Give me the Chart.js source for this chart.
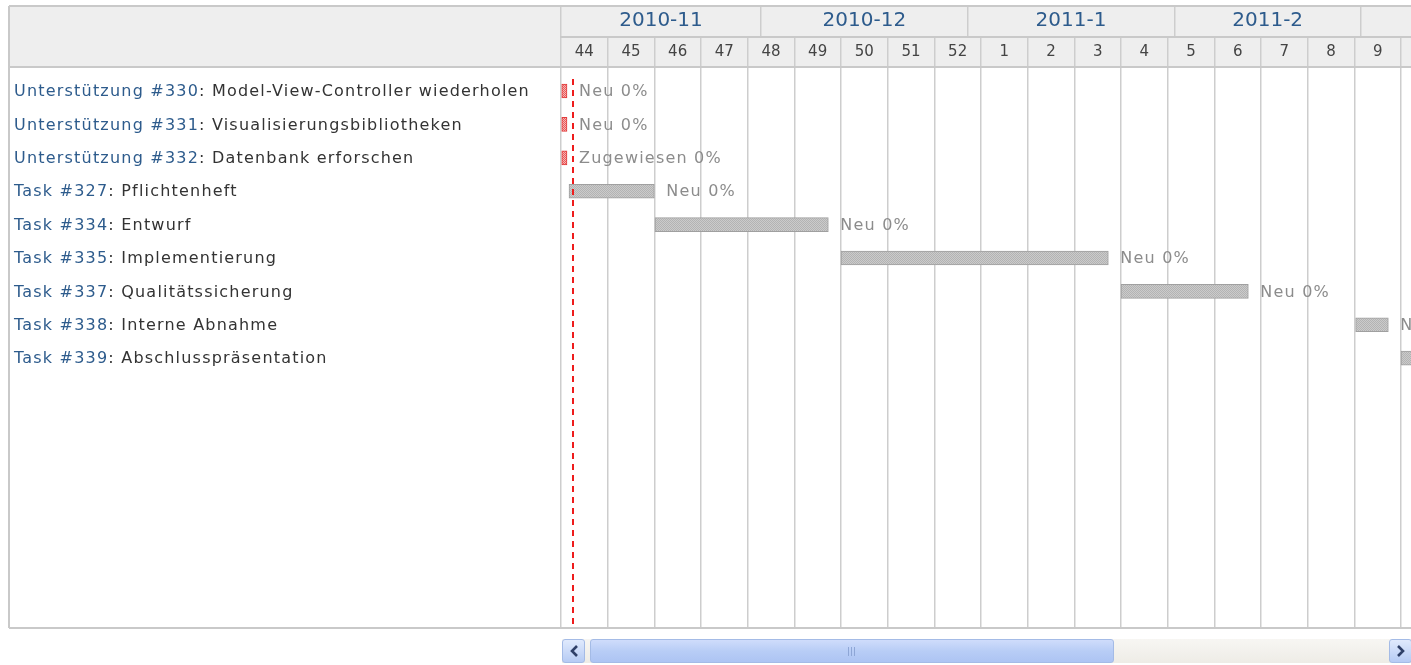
<!DOCTYPE html>
<html>
<head>
<meta charset="utf-8">
<script src="https://cdn.jsdelivr.net/npm/chart.js@4.4.0/dist/chart.umd.min.js"></script>
<style>
body { margin: 0; background: #fff; overflow: hidden; }
#wrap { position: relative; width: 1411px; height: 665px; }
#gantt { position: absolute; left: 0; top: 0; }
.sb { position: absolute; top: 639px; height: 24px; box-sizing: border-box; }
#track { left: 562px; width: 849px; background: linear-gradient(#f7f6f3, #eeece6); }
.btn { width: 23px; border: 1px solid #a4bbe6; border-radius: 3px;
  background: linear-gradient(#e0eafd, #b6cbf4); }
.btn svg { position: absolute; left: 6px; top: 5px; }
#btnL { left: 562px; }
#btnR { left: 1389px; }
#thumb { left: 590px; width: 524px; border: 1px solid #a4bbe6; border-radius: 3px;
  background: linear-gradient(#cfdcfb, #b8cdf6 50%, #adc4f3); }
#grip { position: absolute; left: 257px; top: 7px; width: 8px; height: 9px;
  background: repeating-linear-gradient(90deg, #8ea6d6 0 1px, transparent 1px 3px); }
</style>
</head>
<body>
<div id="wrap">
<canvas id="gantt" width="1411" height="665"></canvas>
<div class="sb" id="track"></div>
<div class="sb btn" id="btnL"><svg width="10" height="12"><polyline points="8,1 3,6 8,11" fill="none" stroke="#2f4068" stroke-width="2.6"/></svg></div>
<div class="sb" id="thumb"><div id="grip"></div></div>
<div class="sb btn" id="btnR"><svg width="10" height="12"><polyline points="2,1 7,6 2,11" fill="none" stroke="#2f4068" stroke-width="2.6"/></svg></div>
</div>
<script>
// Zeitachse in Tagen ab 2010-11-01 (Montag, KW 44)
const xMax = 127.5;
const weekLabels = ['44','45','46','47','48','49','50','51','52','1','2','3','4','5','6','7','8','9','10'];
const weekStarts = [0,7,14,21,28,35,42,49,56,63,70,77,84,91,98,105,112,119,126];
const monthLabels = ['2010-11','2010-12','2011-1','2011-2'];
const monthStarts = [0,30,61,92,120];

// Tickets
const trackers = ['Unterstützung #330','Unterstützung #331','Unterstützung #332','Task #327','Task #334','Task #335','Task #337','Task #338','Task #339'];
const subjects = ['Model-View-Controller wiederholen','Visualisierungsbibliotheken','Datenbank erforschen','Pflichtenheft','Entwurf','Implementierung','Qualitätssicherung','Interne Abnahme','Abschlusspräsentation'];
const startDay = [0,0,0,1.2,14.1,42,84,119.2,126];
const endDay = [0.9,0.9,0.9,14,40.1,82.1,103.1,124.1,140];
const statusText = ['Neu','Neu','Zugewiesen','Neu','Neu','Neu','Neu','Neu','Neu'];
const doneRatio = [0,0,0,0,0,0,0,0,0];
const isLate = [true,true,true,false,false,false,false,false,false];
const todayDay = 1.8;

Chart.defaults.font.family = '"DejaVu Sans", Verdana, sans-serif';

function makePattern(bg, dot) {
    var c = document.createElement('canvas');
    c.width = 2; c.height = 2;
    var g = c.getContext('2d');
    g.fillStyle = bg; g.fillRect(0, 0, 2, 2);
    g.fillStyle = dot; g.fillRect(0, 0, 1, 1); g.fillRect(1, 1, 1, 1);
    return g.createPattern(c, 'repeat');
}
const grayFill = makePattern('#cbcbcb', '#b3b3b3');
const redFill = makePattern('#f6b4b4', '#ea5a5a');

// Rahmen + Kopfzeilen-Hintergrund
const frame = {
    id: 'frame',
    beforeDraw(chart) {
        const ctx = chart.ctx;
        ctx.save();
        ctx.fillStyle = '#eeeeee';
        ctx.fillRect(9, 6, 1402, 61);
        ctx.restore();
    },
    afterDraw(chart) {
        const ctx = chart.ctx;
        ctx.save();
        ctx.strokeStyle = '#c9c9c9';
        ctx.lineWidth = 2;
        ctx.beginPath();
        ctx.moveTo(9, 6); ctx.lineTo(1411, 6);
        ctx.moveTo(9, 6); ctx.lineTo(9, 628);
        ctx.moveTo(9, 628); ctx.lineTo(1411, 628);
        ctx.moveTo(9, 67); ctx.lineTo(561, 67);
        ctx.stroke();
        ctx.restore();
    }
};

// linke Spalte: Tracker #Nr (blau) + Betreff
const leftLabels = {
    id: 'leftLabels',
    afterDraw(chart) {
        const ctx = chart.ctx, y = chart.scales.y;
        ctx.save();
        ctx.font = '16px "DejaVu Sans"';
        ctx.letterSpacing = '1.2px';
        ctx.textBaseline = 'middle';
        for (let i = 0; i < trackers.length; i++) {
            const py = y.getPixelForValue(i) + 1;
            ctx.fillStyle = '#2d5b8c';
            ctx.fillText(trackers[i], 14, py);
            const w = ctx.measureText(trackers[i]).width;
            ctx.fillStyle = '#333333';
            ctx.fillText(': ' + subjects[i], 14 + w, py);
        }
        ctx.restore();
    }
};

// "Neu 0%" hinter den Balken
const barLabels = {
    id: 'barLabels',
    afterDatasetsDraw(chart) {
        const ctx = chart.ctx;
        const meta = chart.getDatasetMeta(0);
        ctx.save();
        ctx.font = '16px "DejaVu Sans"';
        ctx.letterSpacing = '1.2px';
        ctx.textBaseline = 'middle';
        ctx.fillStyle = '#8c8c8c';
        meta.data.forEach(function (bar, i) {
            ctx.fillText(statusText[i] + ' ' + doneRatio[i] + '%', bar.x + 12, bar.y + 1);
        });
        ctx.restore();
    }
};

// heutige Linie
const todayLine = {
    id: 'todayLine',
    afterDatasetsDraw(chart) {
        const ctx = chart.ctx, a = chart.chartArea;
        const px = chart.scales.x.getPixelForValue(todayDay);
        ctx.save();
        ctx.strokeStyle = '#ee1c1c';
        ctx.lineWidth = 2;
        ctx.setLineDash([6, 5]);
        ctx.beginPath();
        ctx.moveTo(px, a.top + 12);
        ctx.lineTo(px, a.bottom);
        ctx.stroke();
        ctx.restore();
    }
};

const monthTicks = monthStarts.concat(monthLabels.map((m, i) => (monthStarts[i] + monthStarts[i + 1]) / 2)).sort((a, b) => a - b);

new Chart(document.getElementById('gantt').getContext('2d'), {
    type: 'bar',
    data: {
        labels: trackers,
        datasets: [{
            data: trackers.map((t, i) => ({ x: [startDay[i], endDay[i]], y: i })),
            backgroundColor: isLate.map(l => l ? redFill : grayFill),
            borderColor: isLate.map(l => l ? '#e23a3a' : '#a0a0a0'),
            borderWidth: 1,
            borderSkipped: false,
            barThickness: 14
        }]
    },
    options: {
        indexAxis: 'y',
        responsive: false,
        animation: false,
        events: [],
        layout: { padding: { left: 9, top: 6, right: 0, bottom: 37 }, autoPadding: false },
        plugins: { legend: { display: false }, tooltip: { enabled: false } },
        scales: {
            x: {
                type: 'linear', position: 'top', min: 0, max: xMax, weight: 0,
                afterBuildTicks: s => { s.ticks = weekStarts.map(v => ({ value: v })); },
                afterFit: s => { s.height = 30; },
                ticks: {
                    callback: (v, i) => weekLabels[i],
                    autoSkip: false, maxRotation: 0, minRotation: 0,
                    labelOffset: 3.5 * 850 / xMax,
                    padding: -24,
                    color: '#444444',
                    font: { size: 15 }
                },
                grid: { color: '#cdcdcd', lineWidth: 1.5, tickLength: 30, tickColor: '#cdcdcd' },
                border: { color: '#c9c9c9', width: 2 }
            },
            xm: {
                type: 'linear', position: 'top', min: 0, max: xMax, weight: 1,
                afterBuildTicks: s => { s.ticks = monthTicks.filter(v => v <= xMax).map(v => ({ value: v })); },
                afterFit: s => { s.height = 31; },
                ticks: {
                    callback: v => {
                        const k = monthStarts.findIndex((m, i) => v === (m + monthStarts[i + 1]) / 2);
                        return k >= 0 ? monthLabels[k] : '';
                    },
                    autoSkip: false, maxRotation: 0, minRotation: 0,
                    padding: -27,
                    color: '#2d5b8c',
                    font: { size: 20 }
                },
                grid: {
                    drawOnChartArea: false, tickLength: 31, lineWidth: 1.5,
                    tickColor: c => monthStarts.includes(c.tick.value) ? '#cdcdcd' : 'rgba(0,0,0,0)'
                },
                border: { color: '#c9c9c9', width: 2 }
            },
            y: {
                type: 'linear', reverse: true, offset: false, min: -0.72, max: 16.08,
                afterFit: s => { s.width = 552; },
                ticks: { display: false },
                grid: { display: false },
                border: { display: false }
            }
        }
    },
    plugins: [frame, leftLabels, barLabels, todayLine]
});
</script>
</body>
</html>
